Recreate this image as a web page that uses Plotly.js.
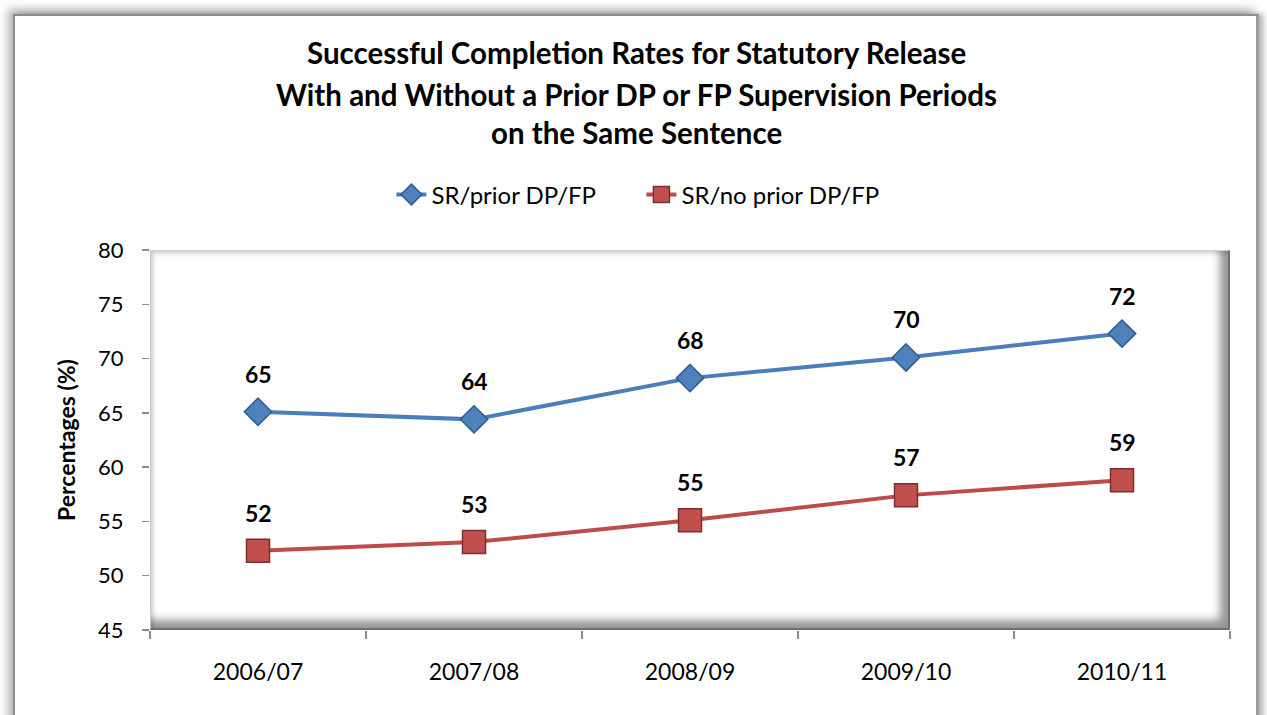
<!DOCTYPE html>
<html>
<head>
<meta charset="utf-8">
<script src="https://cdn.plot.ly/plotly-3.0.1.min.js"></script>
<style>
  html, body { margin:0; padding:0; width:1267px; height:715px; overflow:hidden; background:#ffffff; }
  #frame { position:absolute; left:13px; top:14px; width:1246px; height:800px; box-sizing:border-box;
           border-left:2px solid #8c8c8c; border-top:2px solid #8c8c8c; border-right:3px solid #9a9a9a;
           box-shadow:-5px -5px 9px rgba(0,0,0,0.30), 5px 0 5px rgba(0,0,0,0.25); background:#ffffff; }
  #bevel { position:absolute; left:150px; top:250px; width:1080px; height:380px; box-sizing:border-box;
           border-top:1px solid #d0d0d0; border-left:1px solid #c8c8c8; border-right:2px solid #6f6f6f; border-bottom:2px solid #6f6f6f;
           box-shadow: inset -13px -13px 9px -5px rgba(0,0,0,0.42), inset 5px 5px 5px -3px rgba(0,0,0,0.22); }
  #chart { position:absolute; left:0; top:0; width:1267px; height:715px; }
</style>
</head>
<body>
<div id="frame"></div>
<div id="bevel"></div>
<div id="chart"></div>
<script>
// ---- data ----
const years = ["2006/07", "2007/08", "2008/09", "2009/10", "2010/11"];
const priorDPFP = [65.1, 64.4, 68.2, 70.1, 72.3];
const noPriorDPFP = [52.3, 53.1, 55.1, 57.4, 58.8];
const seriesNames = ["SR/prior DP/FP", "SR/no prior DP/FP"];
const titleLines = [
  "Successful Completion Rates for Statutory Release",
  "With and Without a Prior DP or FP Supervision Periods",
  "on the Same Sentence"
];
const yTicks = [45, 50, 55, 60, 65, 70, 75, 80];

const FONT = "Lato, 'Open Sans', sans-serif";
const blue = "#4A7EBB";
const red = "#BE4B48";

const traces = [
  {
    x: years, y: priorDPFP, name: seriesNames[0], type: "scatter", mode: "lines+markers",
    line: { color: blue, width: 4 },
    marker: { symbol: "diamond", size: 21, color: "#4F81BD", line: { color: "#2E5C8F", width: 1.5 } }
  },
  {
    x: years, y: noPriorDPFP, name: seriesNames[1], type: "scatter", mode: "lines+markers",
    line: { color: red, width: 4 },
    marker: { symbol: "square", size: 23, color: "#C0504D", line: { color: "#7E2F2D", width: 1.5 } }
  }
];

const annotations = [];
// data labels
[priorDPFP, noPriorDPFP].forEach(series => {
  series.forEach((v, i) => {
    annotations.push({
      x: years[i], y: v, xref: "x", yref: "y", text: "<b>" + Math.round(v) + "</b>",
      showarrow: false, yshift: 38, yanchor: "middle",
      font: { family: FONT, size: 23, color: "#000000" }
    });
  });
});
// title lines
const titleY = [1.521, 1.408, 1.3105];
titleLines.forEach((t, i) => {
  annotations.push({
    x: 0.45, y: titleY[i], xref: "paper", yref: "paper", text: "<b>" + t + "</b>",
    showarrow: false, xanchor: "center", yanchor: "middle",
    font: { family: FONT, size: 29.5, color: "#000000" }
  });
});

const layout = {
  width: 1267, height: 715,
  margin: { l: 150, r: 37, t: 250, b: 85 },
  paper_bgcolor: "rgba(0,0,0,0)",
  plot_bgcolor: "rgba(0,0,0,0)",
  showlegend: true,
  legend: {
    orientation: "h", x: 0.455, xanchor: "center", y: 1.145, yanchor: "middle",
    font: { family: FONT, size: 24, color: "#000000" },
    itemwidth: 30, entrywidth: 205, entrywidthmode: "pixels",
    traceorder: "normal", bgcolor: "rgba(0,0,0,0)"
  },
  xaxis: {
    type: "category", range: [-0.5, 4.5],
    showline: false, showgrid: false, zeroline: false,
    ticks: "outside", tickson: "boundaries", ticklen: 8, tickcolor: "#8a8a8a", tickwidth: 1.5,
    ticklabelstandoff: 26,
    tickfont: { family: FONT, size: 23, color: "#000000" }
  },
  yaxis: {
    range: [45, 80], tickvals: yTicks, ticktext: yTicks.map(String),
    showline: false, showgrid: false, zeroline: false,
    ticks: "outside", ticklen: 7, tickcolor: "#8a8a8a", tickwidth: 1.5,
    ticklabelstandoff: 14,
    tickfont: { family: FONT, size: 22, color: "#000000" },
    title: { text: "<b>Percentages (%)</b>", standoff: 16, font: { family: FONT, size: 23, color: "#000000" } }
  },
  annotations: annotations
};

Plotly.newPlot("chart", traces, layout, { displayModeBar: false, staticPlot: true });
</script>
</body>
</html>
